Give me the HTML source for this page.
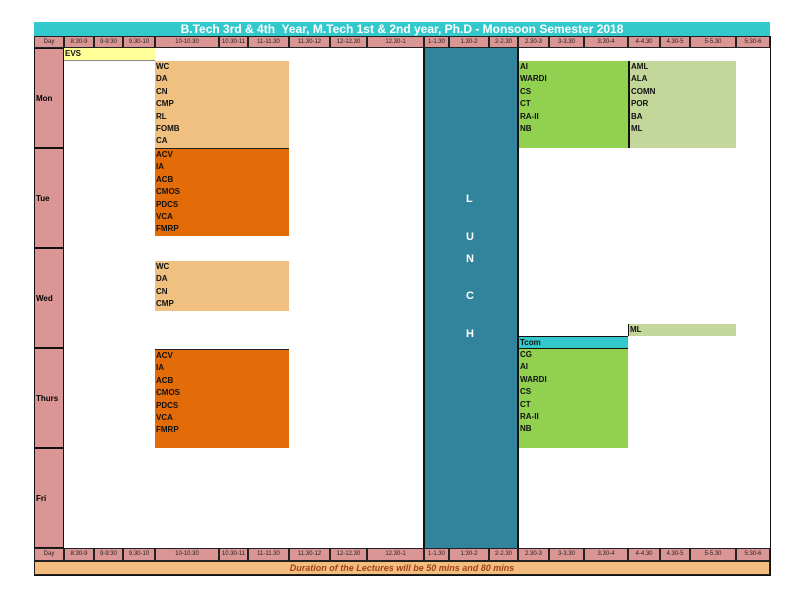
<!DOCTYPE html><html><head><style>
body{margin:0;width:792px;height:612px;background:#fff;position:relative;font-family:"Liberation Sans",sans-serif;overflow:hidden}
div{position:absolute;box-sizing:border-box}
.h{background:#da9694;border:1px solid #222;font-size:6px;text-align:center;line-height:11px;color:#222;white-space:nowrap;overflow:hidden}
.b{font-size:8px;font-weight:bold;line-height:12.4px;padding-left:1px;color:#111}
.d{background:#da9694;border:1.5px solid #111;font-size:8px;font-weight:bold;padding-left:1px;display:flex;align-items:center}
.l{color:#fff;font-weight:bold;font-size:11px;left:466px}
</style></head><body>
<div style="left:34px;top:22px;width:736px;height:14px;background:#33c9cc;color:#fff;font-weight:bold;font-size:12px;line-height:14px;text-align:center">B.Tech 3rd &amp; 4th&nbsp; Year, M.Tech 1st &amp; 2nd year, Ph.D - Monsoon Semester 2018</div>
<div style="left:34px;top:36px;width:737px;height:540px;border:1.5px solid #111"></div>
<div style="left:34px;top:36px;width:736px;height:12px" id="h1"></div>
<!-- header rows -->
<div class="h" style="left:34px;top:36px;width:30px;height:12px">Day</div>
<div class="h" style="left:64px;top:36px;width:30px;height:12px">8:30-9</div>
<div class="h" style="left:94px;top:36px;width:29px;height:12px">9-9:30</div>
<div class="h" style="left:123px;top:36px;width:32px;height:12px">9.30-10</div>
<div class="h" style="left:155px;top:36px;width:64px;height:12px">10-10.30</div>
<div class="h" style="left:219px;top:36px;width:29px;height:12px">10.30-11</div>
<div class="h" style="left:248px;top:36px;width:41px;height:12px">11-11.30</div>
<div class="h" style="left:289px;top:36px;width:41px;height:12px">11.30-12</div>
<div class="h" style="left:330px;top:36px;width:37px;height:12px">12-12.30</div>
<div class="h" style="left:367px;top:36px;width:57px;height:12px">12.30-1</div>
<div class="h" style="left:424px;top:36px;width:25px;height:12px">1-1.30</div>
<div class="h" style="left:449px;top:36px;width:40px;height:12px">1.30-2</div>
<div class="h" style="left:489px;top:36px;width:29px;height:12px">2-2.30</div>
<div class="h" style="left:518px;top:36px;width:31px;height:12px">2.30-3</div>
<div class="h" style="left:549px;top:36px;width:35px;height:12px">3-3.30</div>
<div class="h" style="left:584px;top:36px;width:44px;height:12px">3.30-4</div>
<div class="h" style="left:628px;top:36px;width:32px;height:12px">4-4.30</div>
<div class="h" style="left:660px;top:36px;width:30px;height:12px">4.30-5</div>
<div class="h" style="left:690px;top:36px;width:46px;height:12px">5-5.30</div>
<div class="h" style="left:736px;top:36px;width:34px;height:12px">5:30-6</div>

<div class="h" style="left:34px;top:548px;width:30px;height:13px">Day</div>
<div class="h" style="left:64px;top:548px;width:30px;height:13px">8:30-9</div>
<div class="h" style="left:94px;top:548px;width:29px;height:13px">9-9:30</div>
<div class="h" style="left:123px;top:548px;width:32px;height:13px">9.30-10</div>
<div class="h" style="left:155px;top:548px;width:64px;height:13px">10-10.30</div>
<div class="h" style="left:219px;top:548px;width:29px;height:13px">10.30-11</div>
<div class="h" style="left:248px;top:548px;width:41px;height:13px">11-11.30</div>
<div class="h" style="left:289px;top:548px;width:41px;height:13px">11.30-12</div>
<div class="h" style="left:330px;top:548px;width:37px;height:13px">12-12.30</div>
<div class="h" style="left:367px;top:548px;width:57px;height:13px">12.30-1</div>
<div class="h" style="left:424px;top:548px;width:25px;height:13px">1-1.30</div>
<div class="h" style="left:449px;top:548px;width:40px;height:13px">1:30-2</div>
<div class="h" style="left:489px;top:548px;width:29px;height:13px">2-2.30</div>
<div class="h" style="left:518px;top:548px;width:31px;height:13px">2.30-3</div>
<div class="h" style="left:549px;top:548px;width:35px;height:13px">3-3.30</div>
<div class="h" style="left:584px;top:548px;width:44px;height:13px">3.30-4</div>
<div class="h" style="left:628px;top:548px;width:32px;height:13px">4-4.30</div>
<div class="h" style="left:660px;top:548px;width:30px;height:13px">4.30-5</div>
<div class="h" style="left:690px;top:548px;width:46px;height:13px">5-5.30</div>
<div class="h" style="left:736px;top:548px;width:34px;height:13px">5:30-6</div>
<div style="left:34px;top:561px;width:736px;height:14px;background:#f3bd80;border:1px solid #222;color:#a0401a;font-style:italic;font-weight:bold;font-size:9px;text-align:center;line-height:12px">Duration of the Lectures will be 50 mins and 80 mins</div>

<!-- day column -->
<div class="d" style="left:34px;top:48px;width:30px;height:100px">Mon</div>
<div class="d" style="left:34px;top:148px;width:30px;height:100px">Tue</div>
<div class="d" style="left:34px;top:248px;width:30px;height:100px">Wed</div>
<div class="d" style="left:34px;top:348px;width:30px;height:100px">Thurs</div>
<div class="d" style="left:34px;top:448px;width:30px;height:100px">Fri</div>

<!-- lunch -->
<div style="left:423px;top:48px;width:96px;height:500px;background:#31849b;border-left:2px solid #111;border-right:2px solid #111"></div>
<div class="l" style="top:193px">L</div>
<div class="l" style="top:231px">U</div>
<div class="l" style="top:253px">N</div>
<div class="l" style="top:290px">C</div>
<div class="l" style="top:328px">H</div>

<!-- blocks -->
<div class="b" style="left:64px;top:48px;width:91px;height:13px;background:#ffff99;border-bottom:1px solid #888">EVS</div>
<div class="b" style="left:155px;top:61px;width:134px;height:87px;background:#f0c080">WC<br>DA<br>CN<br>CMP<br>RL<br>FOMB<br>CA</div>
<div class="b" style="left:155px;top:148px;width:134px;height:88px;background:#e36c09;border-top:1.5px solid #222">ACV<br>IA<br>ACB<br>CMOS<br>PDCS<br>VCA<br>FMRP</div>
<div class="b" style="left:155px;top:261px;width:134px;height:50px;background:#f0c080">WC<br>DA<br>CN<br>CMP</div>
<div class="b" style="left:155px;top:349px;width:134px;height:99px;background:#e36c09;border-top:1px solid #222">ACV<br>IA<br>ACB<br>CMOS<br>PDCS<br>VCA<br>FMRP</div>

<div class="b" style="left:519px;top:61px;width:110px;height:87px;background:#92d050">AI<br>WARDI<br>CS<br>CT<br>RA-II<br>NB</div>
<div class="b" style="left:628px;top:61px;width:108px;height:87px;background:#c4d79b;border-left:2px solid #111">AML<br>ALA<br>COMN<br>POR<br>BA<br>ML</div>
<div class="b" style="left:628px;top:324px;width:108px;height:12px;background:#c4d79b;border-left:1px solid #111;line-height:12px">ML</div>
<div class="b" style="left:519px;top:336px;width:109px;height:13px;background:#33c9cc;border-top:1.5px solid #111;border-bottom:1.5px solid #111;line-height:11px">Tcom</div>
<div class="b" style="left:519px;top:349px;width:109px;height:99px;background:#92d050">CG<br>AI<br>WARDI<br>CS<br>CT<br>RA-II<br>NB</div>
</body></html>
